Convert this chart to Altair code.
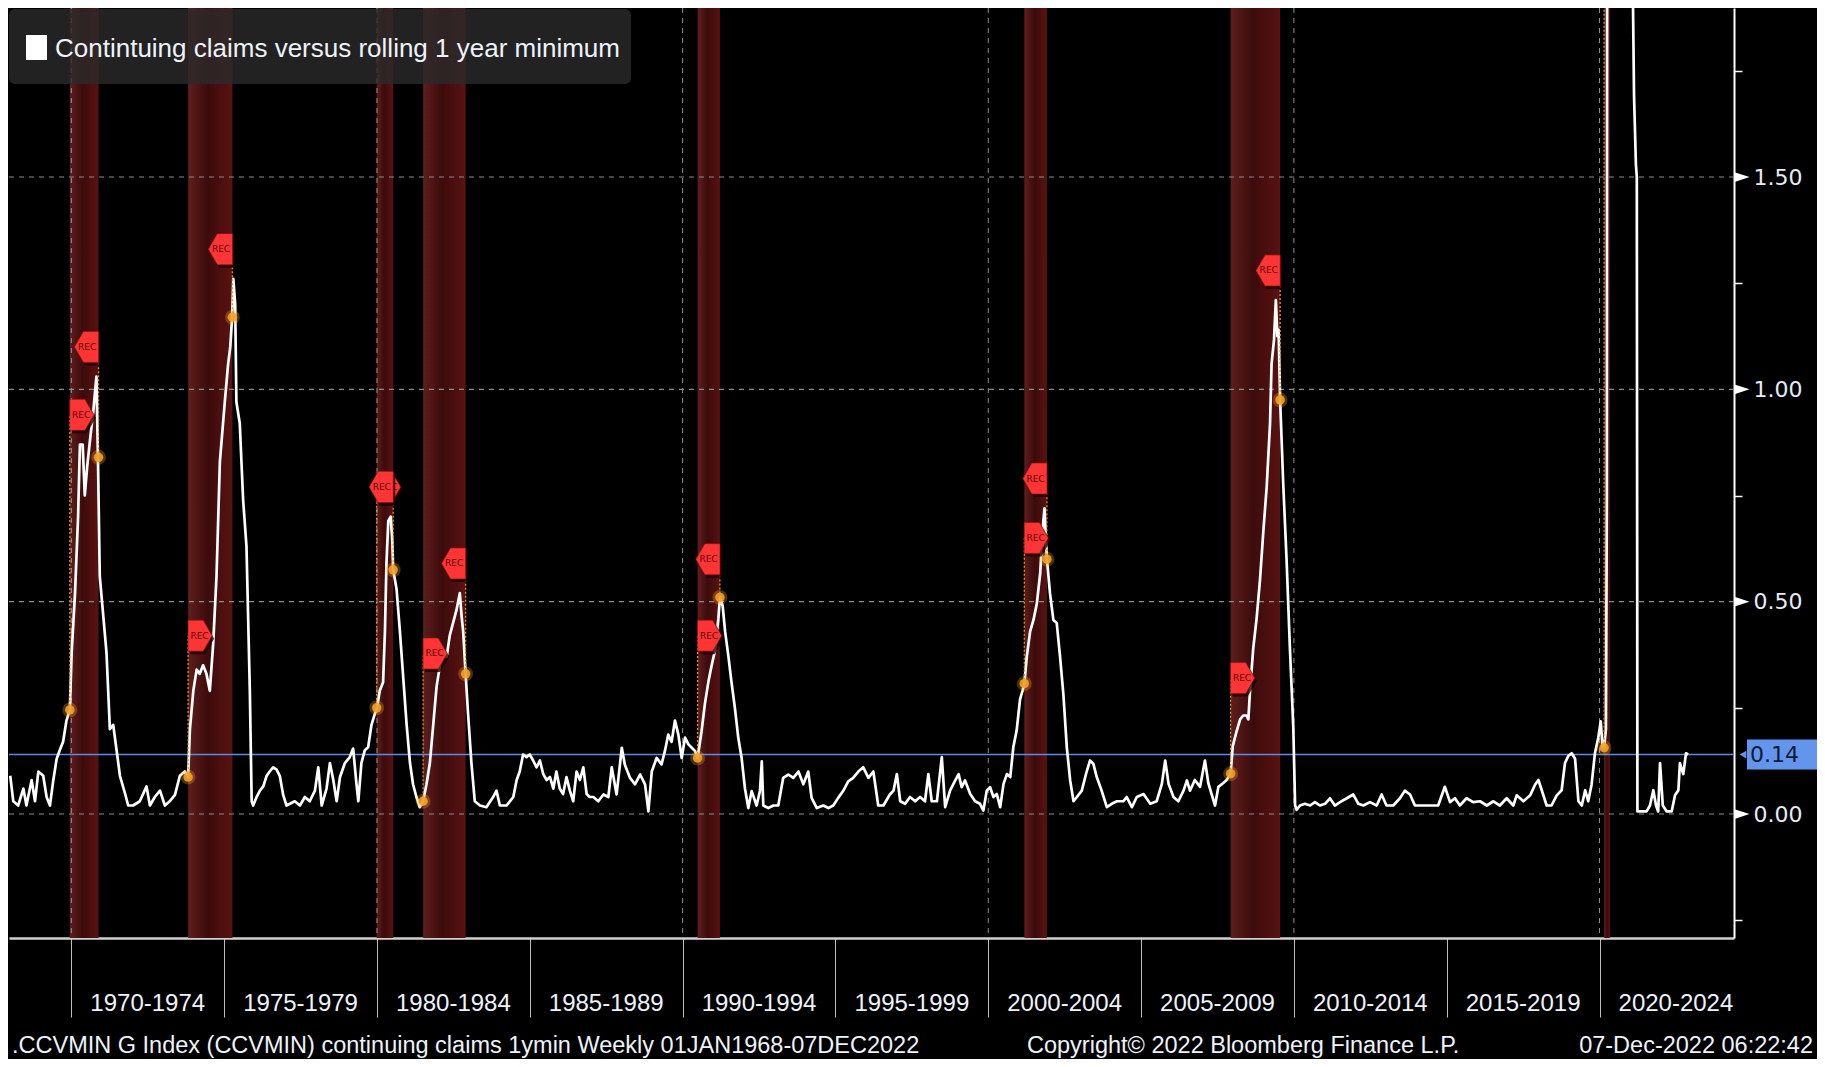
import altair as alt
import pandas as pd

# ---------------- data ----------------
years = [
    1968.00, 1968.10, 1968.26, 1968.43, 1968.53, 1968.70, 1968.81, 1968.92, 1969.08, 1969.19,
    1969.30, 1969.41, 1969.52, 1969.62, 1969.73, 1969.84, 1969.95, 1970.01, 1970.12, 1970.22,
    1970.28, 1970.37, 1970.44, 1970.52, 1970.61, 1970.72, 1970.82, 1970.87, 1970.93, 1971.04,
    1971.15, 1971.26, 1971.37, 1971.48, 1971.59, 1971.75, 1971.86, 1972.02, 1972.24, 1972.46,
    1972.57, 1972.73, 1972.90, 1973.06, 1973.22, 1973.39, 1973.55, 1973.71, 1973.82, 1973.88,
    1973.99, 1974.10, 1974.20, 1974.31, 1974.42, 1974.53, 1974.64, 1974.75, 1974.86, 1975.02,
    1975.13, 1975.20, 1975.26, 1975.30, 1975.36, 1975.40, 1975.51, 1975.62, 1975.73, 1975.84,
    1975.90, 1975.95, 1976.06, 1976.17, 1976.28, 1976.39, 1976.49, 1976.60, 1976.71, 1976.82,
    1976.93, 1977.04,
    1977.15, 1977.31, 1977.48, 1977.64, 1977.80, 1977.97, 1978.08, 1978.19, 1978.35, 1978.46,
    1978.57, 1978.68, 1978.79, 1978.95, 1979.11, 1979.22, 1979.33, 1979.39, 1979.49, 1979.60,
    1979.71, 1979.82, 1979.93, 1980.00, 1980.09, 1980.20, 1980.26, 1980.31, 1980.37, 1980.45,
    1980.50, 1980.53, 1980.64, 1980.75, 1980.86, 1980.97, 1981.08, 1981.18, 1981.29, 1981.40,
    1981.51, 1981.62, 1981.73, 1981.84, 1981.95, 1982.06, 1982.17, 1982.28, 1982.38, 1982.49,
    1982.60, 1982.71, 1982.77, 1982.82, 1982.90, 1982.98, 1983.09, 1983.20, 1983.37, 1983.58,
    1983.80, 1983.91, 1984.02, 1984.24, 1984.46, 1984.57, 1984.67, 1984.78, 1984.89, 1985.00,
    1985.11, 1985.22, 1985.33, 1985.44, 1985.55, 1985.66, 1985.77, 1985.87, 1985.98, 1986.09,
    1986.20, 1986.31, 1986.42, 1986.53, 1986.64, 1986.75, 1986.86, 1986.96,
    1987.08, 1987.24, 1987.41, 1987.57, 1987.68, 1987.84, 1988.01, 1988.11, 1988.28, 1988.44,
    1988.61, 1988.77, 1988.88, 1988.99, 1989.15, 1989.31, 1989.42, 1989.53, 1989.64, 1989.75,
    1989.86, 1989.97, 1990.08, 1990.19, 1990.30, 1990.41, 1990.49, 1990.62, 1990.73, 1990.84,
    1990.95, 1991.06, 1991.17, 1991.22, 1991.31, 1991.39, 1991.50, 1991.60, 1991.71, 1991.82,
    1991.93, 1992.04, 1992.15, 1992.26, 1992.42, 1992.53, 1992.59, 1992.64, 1992.80, 1992.97,
    1993.13, 1993.29, 1993.46, 1993.62, 1993.79, 1993.95, 1994.11, 1994.22, 1994.39, 1994.60,
    1994.77, 1994.93, 1995.09, 1995.25, 1995.42, 1995.58, 1995.75, 1995.91, 1996.08, 1996.24,
    1996.40, 1996.57, 1996.78,
    1996.90, 1997.01, 1997.12, 1997.28, 1997.44, 1997.61, 1997.77, 1997.93, 1998.04, 1998.15,
    1998.32, 1998.48, 1998.59, 1998.75, 1998.92, 1999.03, 1999.13, 1999.24, 1999.41, 1999.57,
    1999.73, 1999.84, 1999.95, 2000.06, 2000.17, 2000.28, 2000.39, 2000.50, 2000.61, 2000.72,
    2000.82, 2000.93, 2001.04, 2001.12, 2001.18, 2001.26, 2001.37, 2001.48, 2001.59, 2001.70,
    2001.78, 2001.84, 2001.92, 2002.02, 2002.13, 2002.24, 2002.35, 2002.46, 2002.57, 2002.68,
    2002.79, 2002.90, 2003.06, 2003.22, 2003.33, 2003.44, 2003.55, 2003.71, 2003.88, 2004.04,
    2004.21, 2004.42, 2004.53, 2004.70, 2004.86, 2005.08, 2005.30, 2005.51, 2005.68, 2005.79,
    2005.90, 2006.06, 2006.22, 2006.39, 2006.50,
    2006.60, 2006.76, 2006.93, 2007.09, 2007.20, 2007.31, 2007.42, 2007.53, 2007.69, 2007.80,
    2007.93, 2008.00, 2008.13, 2008.24, 2008.34, 2008.45, 2008.51, 2008.56, 2008.67, 2008.78,
    2008.89, 2009.00, 2009.11, 2009.22, 2009.27, 2009.35, 2009.41, 2009.46, 2009.50, 2009.55,
    2009.65, 2009.76, 2009.87, 2009.98, 2010.04, 2010.09, 2010.20, 2010.36, 2010.53, 2010.69,
    2010.85, 2011.02, 2011.18, 2011.34, 2011.51, 2011.73, 2011.94, 2012.11, 2012.27, 2012.49,
    2012.71, 2012.87, 2013.03, 2013.25, 2013.47, 2013.63, 2013.80, 2013.96, 2014.23, 2014.45,
    2014.72, 2014.94, 2015.11, 2015.27, 2015.43, 2015.65, 2015.87,
    2016.09, 2016.31, 2016.53, 2016.74, 2016.96, 2017.18, 2017.29, 2017.51, 2017.73, 2017.89,
    2018.00, 2018.11, 2018.27, 2018.43, 2018.60, 2018.76, 2018.87, 2018.98, 2019.09, 2019.20,
    2019.31, 2019.42, 2019.53, 2019.63, 2019.74, 2019.85, 2019.96, 2020.04, 2020.10, 2020.15,
    2020.21, 2020.24, 2020.26, 2020.30, 2020.35, 2020.40, 2020.60, 2020.80, 2021.00, 2021.08,
    2021.13, 2021.19, 2021.22, 2021.24, 2021.38, 2021.54, 2021.65, 2021.76, 2021.85, 2021.92,
    2021.98, 2022.07, 2022.20, 2022.36, 2022.47, 2022.58, 2022.63, 2022.74, 2022.83, 2022.90,
]
values = [
    0.09, 0.03, 0.02, 0.06, 0.02, 0.08, 0.03, 0.10, 0.09, 0.04,
    0.02, 0.08, 0.13, 0.15, 0.17, 0.22, 0.245, 0.38, 0.52, 0.70,
    0.87, 0.87, 0.75, 0.82, 0.88, 0.95, 1.03, 0.84, 0.56, 0.47,
    0.38, 0.20, 0.21, 0.15, 0.09, 0.05, 0.02, 0.02, 0.03, 0.065,
    0.02, 0.04, 0.055, 0.02, 0.03, 0.045, 0.09, 0.10, 0.087, 0.20,
    0.29, 0.34, 0.33, 0.35, 0.33, 0.29, 0.40, 0.56, 0.83, 0.97,
    1.06, 1.10, 1.17, 1.26, 1.20, 0.97, 0.92, 0.74, 0.63, 0.29,
    0.03, 0.02, 0.04, 0.055, 0.065, 0.09, 0.10, 0.11, 0.105, 0.09,
    0.045, 0.02,
    0.024, 0.03, 0.02, 0.04, 0.03, 0.055, 0.11, 0.02, 0.06, 0.12,
    0.08, 0.03, 0.087, 0.12, 0.134, 0.154, 0.07, 0.03, 0.12, 0.15,
    0.157, 0.21, 0.236, 0.25, 0.29, 0.31, 0.43, 0.59, 0.69, 0.70,
    0.645, 0.575, 0.53, 0.43, 0.32, 0.21, 0.12, 0.07, 0.04, 0.016,
    0.03, 0.07, 0.12, 0.21, 0.30, 0.35, 0.37, 0.37, 0.42, 0.45,
    0.48, 0.52, 0.465, 0.43, 0.33, 0.236, 0.12, 0.03, 0.02, 0.016,
    0.04, 0.055, 0.02, 0.02, 0.04, 0.08, 0.10, 0.14, 0.134, 0.14,
    0.126, 0.11, 0.126, 0.094, 0.08, 0.087, 0.06, 0.10, 0.06, 0.047,
    0.087, 0.055, 0.03, 0.10, 0.08, 0.11, 0.047, 0.04,
    0.04, 0.03, 0.046, 0.04, 0.11, 0.046, 0.156, 0.116, 0.085, 0.07,
    0.093, 0.07, 0.006, 0.10, 0.132, 0.117, 0.148, 0.187, 0.17, 0.22,
    0.187, 0.132, 0.18, 0.164, 0.156, 0.148, 0.132, 0.195, 0.26, 0.31,
    0.35, 0.385, 0.46, 0.51, 0.49, 0.43, 0.37, 0.31, 0.25, 0.18,
    0.132, 0.06, 0.014, 0.054, 0.02, 0.054, 0.124, 0.02, 0.014, 0.02,
    0.02, 0.085, 0.093, 0.085, 0.10, 0.07, 0.10, 0.038, 0.014, 0.02,
    0.014, 0.02, 0.038, 0.054, 0.077, 0.085, 0.10, 0.11, 0.085, 0.10,
    0.02, 0.02, 0.046,
    0.055, 0.094, 0.03, 0.024, 0.04, 0.03, 0.04, 0.03, 0.094, 0.03,
    0.03, 0.134, 0.016, 0.055, 0.079, 0.094, 0.063, 0.079, 0.047, 0.03,
    0.024, 0.008, 0.055, 0.063, 0.04, 0.047, 0.016, 0.071, 0.094, 0.087,
    0.157, 0.197, 0.27, 0.29, 0.307, 0.37, 0.43, 0.457, 0.496, 0.567,
    0.67, 0.72, 0.60, 0.52, 0.457, 0.45, 0.37, 0.28, 0.157, 0.079,
    0.03, 0.04, 0.055, 0.10, 0.126, 0.118, 0.087, 0.055, 0.016, 0.024,
    0.03, 0.03, 0.04, 0.016, 0.04, 0.047, 0.024, 0.03, 0.071, 0.126,
    0.071, 0.04, 0.03, 0.055, 0.079,
    0.055, 0.08, 0.064, 0.126, 0.073, 0.046, 0.02, 0.064, 0.073, 0.08,
    0.095, 0.16, 0.196, 0.223, 0.232, 0.232, 0.223, 0.285, 0.39, 0.46,
    0.55, 0.665, 0.77, 0.92, 1.06, 1.117, 1.21, 1.125, 1.14, 0.975,
    0.78, 0.60, 0.39, 0.205, 0.02, 0.01, 0.02, 0.024, 0.02, 0.028,
    0.02, 0.024, 0.037, 0.02, 0.028, 0.037, 0.046, 0.024, 0.02, 0.028,
    0.02, 0.046, 0.02, 0.02, 0.037, 0.055, 0.046, 0.02, 0.02, 0.02,
    0.02, 0.064, 0.028, 0.037, 0.02, 0.037, 0.028,
    0.03, 0.02, 0.03, 0.02, 0.037, 0.02, 0.044, 0.03, 0.044, 0.069,
    0.08, 0.056, 0.02, 0.02, 0.044, 0.056, 0.12, 0.137, 0.143, 0.13,
    0.03, 0.02, 0.056, 0.03, 0.069, 0.143, 0.18, 0.218, 0.156, 0.156,
    0.20, 0.75, 3.3, 6.0, 11.0, 12.4, 9.0, 5.5, 3.0, 2.0,
    1.69, 1.53, 1.50, 0.006, 0.006, 0.006, 0.02, 0.056, 0.02, 0.006,
    0.12, 0.02, 0.006, 0.006, 0.044, 0.056, 0.12, 0.094, 0.143, 0.14,
]

# recessions (shaded bands) and event markers
rec_start = [1969.95, 1973.82, 1979.99, 1981.51, 1990.49, 2001.18, 2007.93, 2020.15]
rec_end = [1970.89, 1975.27, 1980.53, 1982.90, 1991.22, 2001.92, 2009.55, 2020.34]
start_dot_val = [0.245, 0.087, 0.25, 0.03, 0.132, 0.307, 0.095, 0.156]
end_dot_val = [0.84, 1.17, 0.575, 0.33, 0.51, 0.60, 0.975, None]
start_tag_val = [0.94, 0.42, 0.77, 0.378, 0.42, 0.65, 0.32, None]
end_tag_val = [1.10, 1.33, 0.77, 0.59, 0.60, 0.79, 1.28, None]

x_tick_years = [1970, 1975, 1980, 1985, 1990, 1995, 2000, 2005, 2010, 2015, 2020]
x_grid_years = [1970, 1980, 1990, 2000, 2010, 2020]
x_label_text = ["1970-1974", "1975-1979", "1980-1984", "1985-1989", "1990-1994",
                "1995-1999", "2000-2004", "2005-2009", "2010-2014", "2015-2019", "2020-2024"]
y_major = [0.0, 0.5, 1.0, 1.5]
y_ticks = [-0.25, 0.0, 0.25, 0.5, 0.75, 1.0, 1.25, 1.5, 1.75]

legend_text = "Contintuing claims versus rolling 1 year minimum"
footer_left = ".CCVMIN G Index (CCVMIN) continuing claims 1ymin  Weekly 01JAN1968-07DEC2022"
footer_mid = "Copyright\u00a9 2022 Bloomberg Finance L.P."
footer_right = "07-Dec-2022 06:22:42"

# ---------------- layout ----------------
W, H = 1725, 930
X_MIN, X_MAX = 1967.96, 2024.40
Y_MIN, Y_MAX = -0.292, 1.898
xs = alt.Scale(domain=[X_MIN, X_MAX], nice=False, zero=False)
ys = alt.Scale(domain=[Y_MIN, Y_MAX], nice=False, zero=False)

SANS = "Liberation Sans"
TXT = "#eef3fa"
last_val = values[-1]

x_axis = alt.Axis(orient="bottom", values=x_tick_years, labels=False, tickSize=79,
                  tickColor="#bdbdbd", tickWidth=1, domainColor="#d0d0d0", domainWidth=2.5,
                  grid=False, title=None)
y_axis = alt.Axis(orient="right", values=y_ticks,
                  labelExpr="abs(datum.value*2 - round(datum.value*2)) < 0.001 ? format(datum.value, '.2f') : ''",
                  tickSize=8, tickColor="white", tickWidth=1.5, domainColor="white", domainWidth=2,
                  labelColor="#e6ecf5", labelFont="DejaVu Sans", labelFontSize=22, labelPadding=11,
                  labelBaseline="middle", labelFlush=False, labelOverlap=False, grid=False, title=None)


def X(field):
    return alt.X(field, scale=xs, axis=x_axis)


def Y(field):
    return alt.Y(field, scale=ys, axis=y_axis)


series = pd.DataFrame({"year": years, "value": values})
bands = pd.DataFrame({"start": rec_start, "end": rec_end})

dots = pd.DataFrame(
    [{"x": s, "v": d} for s, d in zip(rec_start, start_dot_val)]
    + [{"x": e, "v": d} for e, d in zip(rec_end, end_dot_val) if d is not None]
)
guides = pd.DataFrame(
    [{"x": s, "v": d, "v2": (t if t is not None else Y_MAX)}
     for s, d, t in zip(rec_start, start_dot_val, start_tag_val)]
    + [{"x": e, "v": d, "v2": t} for e, d, t in zip(rec_end, end_dot_val, end_tag_val) if t is not None]
)
start_tags = pd.DataFrame([{"x": s, "v": t} for s, t in zip(rec_start, start_tag_val) if t is not None])
end_tags = pd.DataFrame([{"x": e, "v": t} for e, t in zip(rec_end, end_tag_val) if t is not None])

band_grad = alt.LinearGradient(
    gradient="linear", x1=0, x2=1, y1=0, y2=0,
    stops=[alt.GradientStop(color="#5e1e1e", offset=0),
           alt.GradientStop(color="#3c0b0b", offset=0.45),
           alt.GradientStop(color="#5a1212", offset=1)])

band_layer = alt.Chart(bands).mark_rect(color=band_grad).encode(
    x=X("start:Q"), x2="end:Q", y=alt.value(0), y2=alt.value(H))

vgrid = alt.Chart(pd.DataFrame({"yr": x_grid_years})).mark_rule(
    color="#a8a8a8", strokeDash=[5, 5], strokeWidth=1, opacity=0.85).encode(x=X("yr:Q"))
hgrid = alt.Chart(pd.DataFrame({"v": y_major})).mark_rule(
    color="#8c8c8c", strokeDash=[5, 5], strokeWidth=1.2).encode(y=Y("v:Q"))

last_rule = alt.Chart(pd.DataFrame({"v": [last_val]})).mark_rule(
    color="#5b8be6", strokeWidth=1.6).encode(y=Y("v:Q"))

line = alt.Chart(series).mark_line(color="white", strokeWidth=2.7, clip=True,
                                   strokeJoin="round").encode(
    x=X("year:Q"), y=Y("value:Q"))

guide_layer = alt.Chart(guides).mark_rule(color="#e8901a", strokeDash=[2, 2],
                                          strokeWidth=1.3, clip=True).encode(
    x=X("x:Q"), y=Y("v:Q"), y2="v2:Q")

dot_glow = alt.Chart(dots).mark_point(filled=True, color="#f5a623", size=220,
                                      opacity=0.3, shape="circle").encode(x=X("x:Q"), y=Y("v:Q"))
dot_core = alt.Chart(dots).mark_point(filled=True, color="#f2a12a", size=90,
                                      opacity=0.9, shape="circle").encode(x=X("x:Q"), y=Y("v:Q"))

RIGHT_TAG = "M-0.78,-1 L0.2,-1 L0.78,0 L0.2,1 L-0.78,1 Z"
LEFT_TAG = "M0.78,-1 L-0.2,-1 L-0.78,0 L-0.2,1 L0.78,1 Z"
TAG_SIZE = 31 * 31


def tag_layers(df, shape, off):
    enc = dict(x=X("x:Q"), y=Y("v:Q"))
    shadow = alt.Chart(df).mark_point(shape=shape, size=TAG_SIZE, filled=True, color="#1e0000",
                                      opacity=0.8, xOffset=off + 2, yOffset=3).encode(**enc)
    body = alt.Chart(df).mark_point(shape=shape, size=TAG_SIZE, filled=True, color="#ff3434",
                                    stroke="#8a1010", strokeWidth=0.6, opacity=1,
                                    xOffset=off).encode(**enc)
    txt = alt.Chart(df).mark_text(text="REC", font="DejaVu Sans", fontSize=9, color="#5a0505",
                                  xOffset=off * 0.95, baseline="middle").encode(**enc)
    return [shadow, body, txt]


tags = tag_layers(start_tags, RIGHT_TAG, 12) + tag_layers(end_tags, LEFT_TAG, -12)

axis_marks = alt.Chart(pd.DataFrame({"v": y_major})).mark_point(
    shape="M-1,-0.65 L1,0 L-1,0.65 Z", size=225, filled=True, color="white", opacity=1,
    xOffset=8).encode(x=alt.datum(X_MAX, scale=xs, axis=x_axis), y=Y("v:Q"))

last_df = pd.DataFrame({"v": [last_val], "t": [f"{last_val:.2f}"]})
last_box = alt.Chart(last_df).mark_rect(color="#6495ed", yOffset=-15, y2Offset=15).encode(
    x=alt.value(W + 13), x2=alt.value(W + 84), y=Y("v:Q"), y2="v:Q")
last_arrow = alt.Chart(last_df).mark_point(shape="triangle-left", filled=True, color="#6495ed",
                                           size=60, opacity=1).encode(
    x=alt.value(W + 9), y=Y("v:Q"))
last_text = alt.Chart(last_df).mark_text(font="DejaVu Sans", fontSize=22, color="#0c1838",
                                         align="left", baseline="middle").encode(
    x=alt.value(W + 16), y=Y("v:Q"), text="t:N")

x_labels = alt.Chart(pd.DataFrame({"c": [y + 2.5 for y in x_tick_years], "t": x_label_text})).mark_text(
    font=SANS, fontSize=24, color=TXT, baseline="middle").encode(
    x=X("c:Q"), y=alt.value(H + 66), text="t:N")

legend_box = alt.Chart(pd.DataFrame({"a": [0]})).mark_rect(
    color="#2a2a2a", opacity=0.8, cornerRadius=6).encode(
    x=alt.value(0), x2=alt.value(622), y=alt.value(1), y2=alt.value(76))
legend_swatch = alt.Chart(pd.DataFrame({"a": [0]})).mark_rect(color="white").encode(
    x=alt.value(17), x2=alt.value(38), y=alt.value(27), y2=alt.value(52))
legend_label = alt.Chart(pd.DataFrame({"t": [legend_text]})).mark_text(
    font=SANS, fontSize=26, color=TXT, align="left", baseline="middle").encode(
    x=alt.value(46), y=alt.value(41), text="t:N")

foot1 = alt.Chart(pd.DataFrame({"t": [footer_left]})).mark_text(
    font=SANS, fontSize=23.5, color=TXT, align="left", baseline="middle").encode(
    x=alt.value(3), y=alt.value(H + 108), text="t:N")
foot2 = alt.Chart(pd.DataFrame({"t": [footer_mid]})).mark_text(
    font=SANS, fontSize=23.5, color=TXT, align="left", baseline="middle").encode(
    x=alt.value(1018), y=alt.value(H + 108), text="t:N")
foot3 = alt.Chart(pd.DataFrame({"t": [footer_right]})).mark_text(
    font=SANS, fontSize=23.5, color=TXT, align="right", baseline="middle").encode(
    x=alt.value(1804), y=alt.value(H + 108), text="t:N")

chart = alt.layer(
    band_layer, vgrid, hgrid, last_rule, line, guide_layer, dot_glow, dot_core,
    *tags, axis_marks, last_box, last_arrow, last_text, x_labels,
    legend_box, legend_swatch, legend_label, foot1, foot2, foot3,
).properties(
    width=W, height=H,
    autosize=alt.AutoSizeParams(type="none"),
    padding={"left": 1, "top": 0, "right": 83, "bottom": 121},
    background="black",
).configure_view(stroke=None)

chart.save("out.html", embed_options={"renderer": "svg", "actions": False})
